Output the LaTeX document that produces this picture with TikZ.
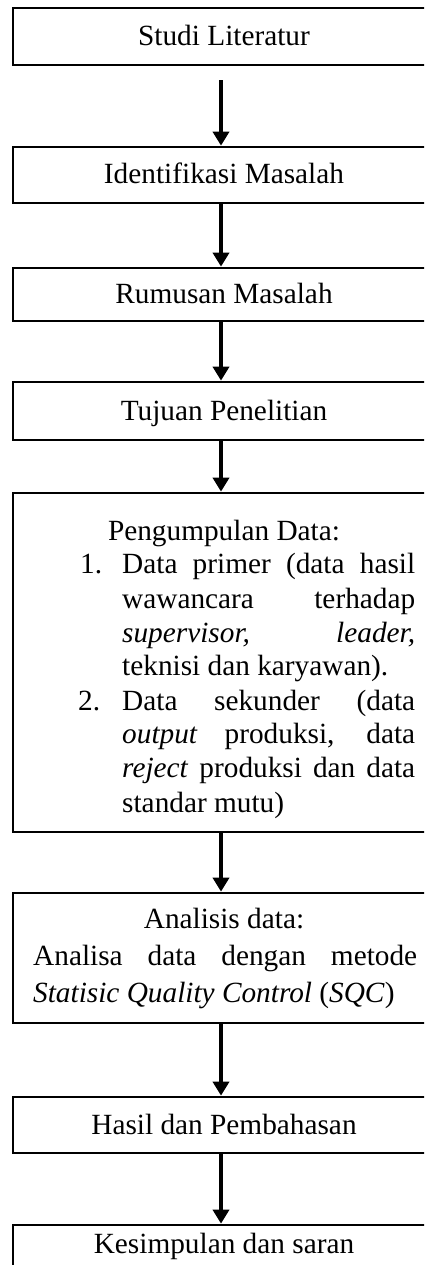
\documentclass[tikz,border=0pt]{standalone}
\usepackage{fontspec}
\setmainfont{Liberation Serif}
\usetikzlibrary{arrows.meta}
\tikzset{
  box/.style={draw, line width=2.7pt, minimum width=457pt, inner sep=0pt, anchor=center},
  txt/.style={inner sep=0pt, text height=25pt, text depth=7pt, anchor=center},
  arr/.style={line width=3.6pt, -{Triangle[width=16pt,length=14pt]}},
  ln/.style={anchor=base west, inner sep=0pt},
  lc/.style={anchor=base, inner sep=0pt}
}
\newcommand{\jl}[1]{\makebox[293pt][s]{#1}}
\begin{document}
\begin{tikzpicture}[x=1pt,y=-1pt,font=\fontsize{29.3pt}{34pt}\selectfont]
\useasboundingbox (0,0) rectangle (424,1265);
\clip (0,0) rectangle (424,1265);

\node[box, minimum height=57pt] (b1) at (241.5,36.5) {};
\node[box, minimum height=56pt] (b2) at (241.5,175) {};
\node[box, minimum height=53pt] (b3) at (241.5,294.5) {};
\node[box, minimum height=58pt] (b4) at (241.5,411) {};
\node[box, minimum height=339pt] (b5) at (241.5,662.5) {};
\node[box, minimum height=130pt] (b6) at (241.5,958) {};
\node[box, minimum height=56pt] (b7) at (241.5,1125) {};
\node[box, minimum height=65pt] (b8) at (241.5,1257.5) {};

\node[txt] (t1) at (224,36.5) {Studi Literatur};
\node[txt] (t2) at (224,175) {Identifikasi Masalah};
\node[txt] (t3) at (224,294.5) {Rumusan Masalah};
\node[txt] (t4) at (224,411) {Tujuan Penelitian};
\node[txt] (t7) at (224,1125) {Hasil dan Pembahasan};
\node[lc] (t8) at (224,1253) {Kesimpulan dan saran};

% Pengumpulan Data
\node[lc] (p0) at (224,540) {Pengumpulan Data:};
\node[ln] (n1) at (80,573) {1.};
\node[ln] (p1) at (122,573) {\jl{Data primer (data hasil}};
\node[ln] (p2) at (122,608) {\jl{wawancara terhadap}};
\node[ln] (p3) at (122,642) {\jl{\textit{supervisor,} \textit{leader,}}};
\node[ln] (p4) at (122,675) {teknisi dan karyawan).};
\node[ln] (n2) at (78,710) {2.};
\node[ln] (p5) at (122,710) {\jl{Data sekunder (data}};
\node[ln] (p6) at (122,743) {\jl{\textit{output} produksi, data}};
\node[ln] (p7) at (122,777) {\jl{\textit{reject} produksi dan data}};
\node[ln] (p8) at (122,812) {standar mutu)};

% Analisis data
\node[lc] (q0) at (224,928) {Analisis data:};
\node[ln] (q1) at (33,965) {\makebox[384pt][s]{Analisa data dengan metode}};
\node[ln] (q2) at (33,1002) {\textit{Statisic Quality Control} (\textit{SQC})};

% arrows
\draw[arr, shorten <=14pt] ([xshift=-20.5pt]b1.south) -- ([xshift=-20.5pt]b2.north);
\draw[arr] ([xshift=-20.5pt]b2.south) -- ([xshift=-20.5pt]b3.north);
\draw[arr] ([xshift=-20.5pt]b3.south) -- ([xshift=-20.5pt]b4.north);
\draw[arr] ([xshift=-20.5pt]b4.south) -- ([xshift=-20.5pt]b5.north);
\draw[arr] ([xshift=-20.5pt]b5.south) -- ([xshift=-20.5pt]b6.north);
\draw[arr] ([xshift=-20.5pt]b6.south) -- ([xshift=-20.5pt]b7.north);
\draw[arr] ([xshift=-20.5pt]b7.south) -- ([xshift=-20.5pt]b8.north);
\end{tikzpicture}
\end{document}
